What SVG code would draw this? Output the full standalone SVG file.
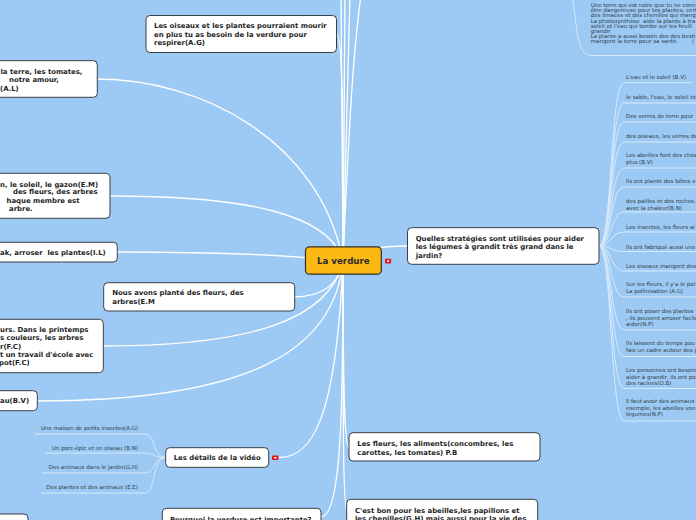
<svg xmlns="http://www.w3.org/2000/svg" width="696" height="520" viewBox="0 0 696 520">
<style>
.bx{fill:#fff;stroke:#3a3f44;stroke-width:1}
.nt{font-family:"DejaVu Sans",Verdana,sans-serif;font-weight:bold;font-size:6.9px;fill:#1e1e1e;white-space:pre}
.lt{font-family:"DejaVu Sans",Verdana,sans-serif;font-size:5.5px;fill:#333c45;white-space:pre}
.c{fill:none;stroke:#fff;stroke-width:1.3}
.cl{fill:none;stroke:#d8e9fb;stroke-width:1}
.mk{fill:#e8141b}
</style>
<rect width="696" height="520" fill="#9ccaf4"/>
<g id="connectors">
<path class="c" d="M343,261 C343,150 341,60 341,-5"/>
<path class="c" d="M343,261 C344,150 345,60 345,-5"/>
<path class="c" d="M343,261 C346,150 349,60 350,-5"/>
<path class="c" d="M343,261 C348,150 352,60 361,-5"/>
<path class="c" d="M343,261 C343,120 343,33 336,33"/>
<path class="c" d="M97,79 C200,79 320,140 343,261"/>
<path class="c" d="M110,196 C250,196 330,215 343,261"/>
<path class="c" d="M117,252 C220,252 300,256 343,261"/>
<path class="c" d="M294,297 C320,297 340,285 343,261"/>
<path class="c" d="M103,346 C250,346 330,320 343,261"/>
<path class="c" d="M37,401 C250,401 335,350 343,261"/>
<path class="c" d="M279,457.5 C312,457.5 336,420 343,261"/>
<path class="c" d="M343,261 C343,400 342,517 321,517"/>
<path class="c" d="M343,261 C343,380 344,447 349,447"/>
<path class="c" d="M343,261 C343,420 343,510 347,510"/>
<path class="c" d="M343,261 C370,246 390,246 408,246"/>
<path class="cl" d="M572,-5 C578,30 576,55.5 592,55.5 L700,55.5"/>
<path class="cl" d="M599,246 C612,246 610,82.7 624,82.7 L692,82.7"/>
<path class="cl" d="M599,246 C612,246 610,103 624,103 L700,103"/>
<path class="cl" d="M599,246 C612,246 610,122 624,122 L700,122"/>
<path class="cl" d="M599,246 C612,246 610,142 624,142 L700,142"/>
<path class="cl" d="M599,246 C612,246 610,168 624,168 L700,168"/>
<path class="cl" d="M599,246 C612,246 610,187 624,187 L700,187"/>
<path class="cl" d="M599,246 C612,246 610,212 624,212 L700,212"/>
<path class="cl" d="M599,246 C612,246 610,232 624,232 L700,232"/>
<path class="cl" d="M599,246 C612,246 610,251.5 624,251.5 L700,251.5"/>
<path class="cl" d="M599,246 C612,246 610,271 624,271 L700,271"/>
<path class="cl" d="M599,246 C612,246 610,297 624,297 L700,297"/>
<path class="cl" d="M599,246 C612,246 610,330 624,330 L700,330"/>
<path class="cl" d="M599,246 C612,246 610,356.5 624,356.5 L700,356.5"/>
<path class="cl" d="M599,246 C612,246 610,388.5 624,388.5 L700,388.5"/>
<path class="cl" d="M599,246 C612,246 610,421 624,421 L700,421"/>
<path class="cl" d="M165.7,457.5 C152,457.5 156,434 145,434 L35,434"/>
<path class="cl" d="M165.7,457.5 C152,457.5 156,453 145,453 L45,453"/>
<path class="cl" d="M165.7,457.5 C152,457.5 156,473 145,473 L41.7,473"/>
<path class="cl" d="M165.7,457.5 C152,457.5 156,493 145,493 L40.7,493"/>
</g>
<g id="n-oiseaux"><rect class="bx" x="146" y="15.5" width="190.5" height="37" rx="4"/>
<text class="nt" x="154" y="28">Les oiseaux et les plantes pourraient mourir</text>
<text class="nt" x="154" y="36.8">en plus tu as besoin de la verdure pour</text>
<text class="nt" x="154" y="45.4">respirer(A.G)</text></g>
<g id="n-terre"><rect class="bx" x="-10" y="60.7" width="107.3" height="36.6" rx="4"/>
<text class="nt" x="0.5" y="73.5">la terre, les tomates,</text>
<text class="nt" x="9" y="82.3">notre amour,</text>
<text class="nt" x="0" y="90.8">(A.L)</text></g>
<g id="n-soleil"><rect class="bx" x="-10" y="173.3" width="120" height="45" rx="4"/>
<text class="nt" x="0" y="186.5">n, le soleil, le gazon(E.M)</text>
<text class="nt" x="13" y="194.3">des fleurs, des arbres</text>
<text class="nt" x="6.5" y="202.6">haque membre est</text>
<text class="nt" x="9" y="210.9">arbre.</text></g>
<g id="n-arroser"><rect class="bx" x="-10" y="242.3" width="127.3" height="19.7" rx="4"/>
<text class="nt" x="0" y="255.2">ak, arroser  les plantes(I.L)</text></g>
<g id="n-nous"><rect class="bx" x="103.7" y="282.7" width="191" height="28.3" rx="4"/>
<text class="nt" x="112.3" y="295.2">Nous avons planté des fleurs, des</text>
<text class="nt" x="112.3" y="303.8">arbres(E.M</text></g>
<g id="n-printemps"><rect class="bx" x="-10" y="319.3" width="113.3" height="53.4" rx="4"/>
<text class="nt" x="0" y="332">urs. Dans le printemps</text>
<text class="nt" x="0" y="340.3">s couleurs, les arbres</text>
<text class="nt" x="0" y="348.6">r(F.C)</text>
<text class="nt" x="0" y="356.9">t un travail d'école avec</text>
<text class="nt" x="-1" y="365.2">pot(F.C)</text></g>
<g id="n-eau"><rect class="bx" x="-10" y="390.7" width="47.3" height="20" rx="4"/>
<text class="nt" x="0" y="403.2">au(B.V)</text></g>
<g id="n-bas-gauche"><rect class="bx" x="-10" y="514" width="38" height="20" rx="4"/></g>
<g id="n-center"><rect x="305.5" y="246.8" width="75.8" height="27.4" rx="4" fill="#fdb913" stroke="#2e2e2e" stroke-width="1.2"/>
<text x="343.3" y="264.3" text-anchor="middle" style="font-family:'DejaVu Sans',Verdana,sans-serif;font-weight:bold;font-size:8.7px;fill:#2a2a2a">La verdure</text>
<rect class="mk" x="385" y="258.8" width="6.2" height="4.6" rx="1"/><rect x="387" y="260.3" width="2.2" height="1.6" fill="#fff"/></g>
<g id="n-details"><rect class="bx" x="165.7" y="447.7" width="103" height="19.6" rx="4"/>
<text class="nt" x="217.2" y="460.2" text-anchor="middle">Les détails de la vidéo</text>
<rect class="mk" x="272" y="455.5" width="6.4" height="4.6" rx="1"/><rect x="274.1" y="457" width="2.2" height="1.6" fill="#fff"/>
<text class="lt" x="138" y="430" text-anchor="end">Une maison de petits insectes(A.G)</text>
<text class="lt" x="138" y="449.5" text-anchor="end">Un porc-épic et un oiseau (B.N)</text>
<text class="lt" x="138" y="469" text-anchor="end">Des animaux dans le jardin(G.H)</text>
<text class="lt" x="138" y="489" text-anchor="end">Des plantes et des animaux (E.E)</text></g>
<g id="n-pourquoi"><rect class="bx" x="162.3" y="508.3" width="158.7" height="22" rx="4"/>
<text class="nt" x="170" y="521.5">Pourquoi la verdure est importante?</text></g>
<g id="n-fleurs"><rect class="bx" x="349" y="432.7" width="191" height="28.3" rx="4"/>
<text class="nt" x="357.3" y="446">Les fleurs, les aliments(concombres, les</text>
<text class="nt" x="357.3" y="454.8">carottes, les tomates) P.B</text></g>
<g id="n-cestbon"><rect class="bx" x="346.7" y="499.3" width="191" height="30" rx="4"/>
<text class="nt" x="355" y="512.5">C'est bon pour les abeilles,les papillons et</text>
<text class="nt" x="355" y="521">les chenilles(G.H) mais aussi pour la vie des</text></g>
<g id="n-terre-noire">
<text class="lt" x="590.7" y="7">Une terre qui est noire que tu ne conn</text>
<text class="lt" x="590.7" y="12.2">être dangereuse pour tes plantes, cert</text>
<text class="lt" x="590.7" y="17.4">des limaces et des chenilles qui mang</text>
<text class="lt" x="590.7" y="22.6">La photosynthèse  aide la plante à tra</text>
<text class="lt" x="590.7" y="27.8">soleil et l'eau qui tombe sur les feuill</text>
<text class="lt" x="590.7" y="33">grandir</text>
<text class="lt" x="590.7" y="38.2">La plante a aussi besoin des des besti</text>
<text class="lt" x="590.7" y="43.4">mangent la terre pour sa santé.</text>
<text class="lt" x="692" y="43.4">(</text></g>
<g id="n-quelles"><rect class="bx" x="407.5" y="227.7" width="191.5" height="36.6" rx="4"/>
<text class="nt" x="415.7" y="241">Quelles stratégies sont utilisées pour aider</text>
<text class="nt" x="415.7" y="249.4">les légumes à grandit très grand dans le</text>
<text class="nt" x="415.7" y="257.8">jardin?</text></g>
<g id="n-items">
<text class="lt" x="626" y="78.7">L'eau et le soleil (B.V)</text>
<text class="lt" x="626" y="99">le sable, l'eau, le soleil et</text>
<text class="lt" x="626" y="118">Des verres de terre pour</text>
<text class="lt" x="626" y="138">des oiseaux, les verres de</text>
<text class="lt" x="626" y="157">Les abeilles font des chos</text>
<text class="lt" x="626" y="164">plus.(B.V)</text>
<text class="lt" x="626" y="183">Ils ont planté des bêtes e</text>
<text class="lt" x="626" y="203">des pailles et des roches.</text>
<text class="lt" x="626" y="209.5">avec la chaleur(B.N)</text>
<text class="lt" x="626" y="229">Les insectes, les fleurs ai</text>
<text class="lt" x="626" y="249">Ils ont fabriqué aussi une</text>
<text class="lt" x="626" y="268">Les oiseaux mangent des</text>
<text class="lt" x="626" y="286">Sur les fleurs, il y'a le pol</text>
<text class="lt" x="626" y="293">La pollinisation (A.G)</text>
<text class="lt" x="626" y="313">Ils ont poser des plantes</text>
<text class="lt" x="626" y="319.7">, ils peuvent arroser facile</text>
<text class="lt" x="626" y="326.4">aider(N.P)</text>
<text class="lt" x="626" y="345">Ils laissent du temps pou</text>
<text class="lt" x="626" y="351.7">fais un cadre autour des p</text>
<text class="lt" x="626" y="372">Les personnes ont besoin</text>
<text class="lt" x="626" y="378.7">aider à grandir, ils ont po</text>
<text class="lt" x="626" y="385.4">des racines(O.B)</text>
<text class="lt" x="626" y="403">Il faut avoir des animaux</text>
<text class="lt" x="626" y="409.7">exemple, les abeilles von</text>
<text class="lt" x="626" y="416.4">légumes(N.P)</text>
</g>
</svg>
